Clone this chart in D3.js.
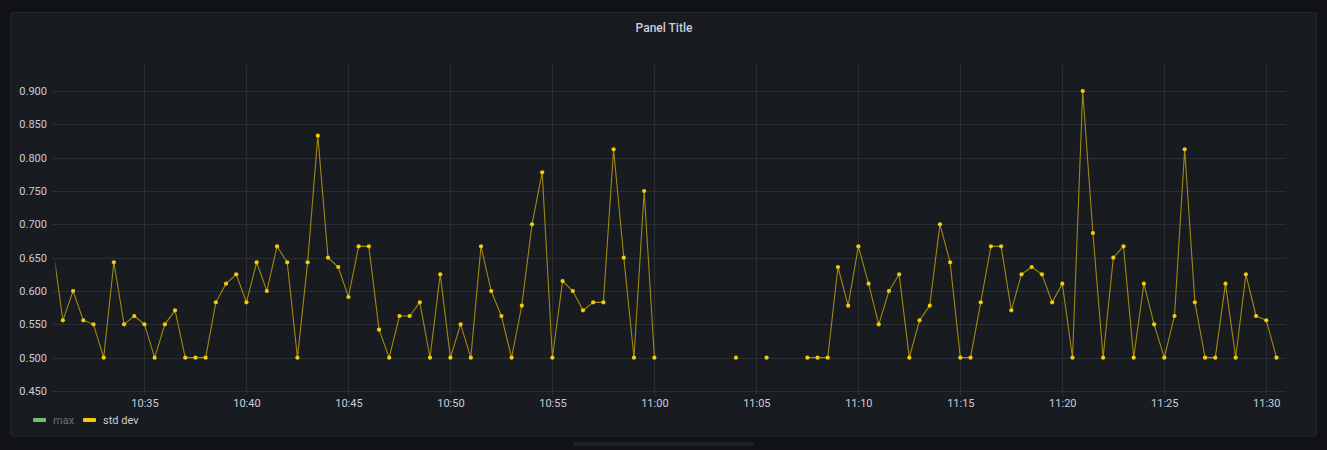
<!DOCTYPE html>
<html>
<head>
<meta charset="utf-8">
<script src="https://cdn.jsdelivr.net/npm/d3@7"></script>
<style>
  html, body { margin: 0; padding: 0; background: #111217; }
  svg { display: block; }
  text { font-family: Roboto, "Noto Sans", sans-serif; }
</style>
</head>
<body>
<svg id="chart" width="1327" height="450"></svg>
<script>
// ---- data ----
const title = "Panel Title";
const seriesNames = ["max", "std dev"];
const seriesColors = ["#73bf69", "#f2cc0c"];
const startTime = "2023-01-01T10:30:30";   // first sample
const stepSeconds = 30;                     // sampling interval
const stdDev = [
  0.667, 0.556, 0.6, 0.556, 0.55, 0.5, 0.643, 0.55, 0.5625, 0.55,
  0.5, 0.55, 0.571, 0.5, 0.5, 0.5, 0.583, 0.611, 0.625, 0.583,
  0.643, 0.6, 0.667, 0.643, 0.5, 0.643, 0.833, 0.65, 0.636, 0.591,
  0.667, 0.667, 0.542, 0.5, 0.5625, 0.5625, 0.583, 0.5, 0.625, 0.5,
  0.55, 0.5, 0.667, 0.6, 0.5625, 0.5, 0.578, 0.7, 0.778, 0.5,
  0.615, 0.6, 0.571, 0.583, 0.583, 0.8125, 0.65, 0.5, 0.75, 0.5,
  null, null, null, null, null, null, null, 0.5, null, null,
  0.5, null, null, null, 0.5, 0.5, 0.5, 0.636, 0.578, 0.667,
  0.611, 0.55, 0.6, 0.625, 0.5, 0.556, 0.578, 0.7, 0.643, 0.5,
  0.5, 0.583, 0.667, 0.667, 0.571, 0.625, 0.636, 0.625, 0.583, 0.611,
  0.5, 0.9, 0.687, 0.5, 0.65, 0.667, 0.5, 0.611, 0.55, 0.5,
  0.5625, 0.8125, 0.583, 0.5, 0.5, 0.611, 0.5, 0.625, 0.5625, 0.556,
  0.5
];
const yTicks = [0.45, 0.5, 0.55, 0.6, 0.65, 0.7, 0.75, 0.8, 0.85, 0.9];
const xDomain = ["2023-01-01T10:30:28", "2023-01-01T11:30:58"];
const yDomain = [0.45, 0.939];

// ---- layout ----
const svg = d3.select("#chart");
const plot = { left: 52, right: 1286, top: 65, bottom: 391 };

const t0 = new Date(startTime).getTime();
const points = stdDev.map((v, i) => ({ t: new Date(t0 + i * stepSeconds * 1000), v }));

const x = d3.scaleTime()
  .domain(xDomain.map(d => new Date(d)))
  .range([plot.left, plot.right]);
const y = d3.scaleLinear().domain(yDomain).range([plot.bottom, plot.top]);

// panel
svg.append("rect").attr("x", 0).attr("y", 0).attr("width", 1327).attr("height", 450).attr("fill", "#111217");
svg.append("rect").attr("x", 10.5).attr("y", 12.5).attr("width", 1306).attr("height", 423.5)
  .attr("rx", 2).attr("fill", "#181b1f").attr("stroke", "#24272c");
svg.append("rect").attr("x", 573).attr("y", 442).attr("width", 181).attr("height", 4)
  .attr("rx", 2).attr("fill", "#202226");

svg.append("text").attr("x", 664).attr("y", 32).attr("text-anchor", "middle")
  .attr("fill", "#ccccdc").attr("font-size", 12).attr("font-weight", 500).text(title);

// grid
const gridColor = "#2b2e33";
const xTicks = x.ticks(d3.timeMinute.every(5));
svg.append("g").selectAll("line").data(xTicks).join("line")
  .attr("x1", d => Math.round(x(d)) + 0.5).attr("x2", d => Math.round(x(d)) + 0.5)
  .attr("y1", plot.top).attr("y2", plot.bottom + 4)
  .attr("stroke", gridColor);
svg.append("g").selectAll("line").data(yTicks).join("line")
  .attr("x1", plot.left).attr("x2", plot.right)
  .attr("y1", d => Math.round(y(d)) + 0.5).attr("y2", d => Math.round(y(d)) + 0.5)
  .attr("stroke", gridColor);

// axes labels via d3 axes
const yAxis = d3.axisLeft(y).tickValues(yTicks).tickFormat(d3.format(".3f")).tickSize(0).tickPadding(5);
const yg = svg.append("g").attr("transform", `translate(${plot.left},0)`).call(yAxis);
yg.select(".domain").remove();
yg.selectAll("text").attr("fill", "#ccccdc").attr("font-size", 11).attr("font-family", "Roboto, sans-serif");

const xAxis = d3.axisBottom(x).tickValues(xTicks).tickFormat(d3.timeFormat("%H:%M")).tickSize(0).tickPadding(8);
const xg = svg.append("g").attr("transform", `translate(0,${plot.bottom})`).call(xAxis);
xg.select(".domain").remove();
xg.selectAll("text").attr("fill", "#ccccdc").attr("font-size", 11).attr("font-family", "Roboto, sans-serif");

// clip
svg.append("clipPath").attr("id", "clip").append("rect")
  .attr("x", 55.5).attr("y", plot.top - 5).attr("width", plot.right - 55.5).attr("height", plot.bottom - plot.top + 10);

const g = svg.append("g").attr("clip-path", "url(#clip)");
const line = d3.line().defined(d => d.v !== null).x(d => x(d.t)).y(d => y(d.v));
g.append("path").datum(points).attr("d", line)
  .attr("fill", "none").attr("stroke", seriesColors[1]).attr("stroke-opacity", 0.62).attr("stroke-width", 1.1);
g.append("g").selectAll("circle").data(points.filter(d => d.v !== null)).join("circle")
  .attr("cx", d => x(d.t)).attr("cy", d => y(d.v)).attr("r", 2.1)
  .attr("fill", seriesColors[1]);

// legend
const legend = svg.append("g").attr("transform", "translate(33,420)");
const legX = [0, 50];
seriesNames.forEach((name, i) => {
  const lg = legend.append("g").attr("transform", `translate(${legX[i]},0)`);
  lg.append("rect").attr("x", 0).attr("y", -2).attr("width", 13).attr("height", 4).attr("rx", 1).attr("fill", seriesColors[i]);
  lg.append("text").attr("x", 20).attr("y", 4).attr("font-size", 11)
    .attr("fill", i === 0 ? "#6e7077" : "#ccccdc").text(name);
});
</script>
</body>
</html>
